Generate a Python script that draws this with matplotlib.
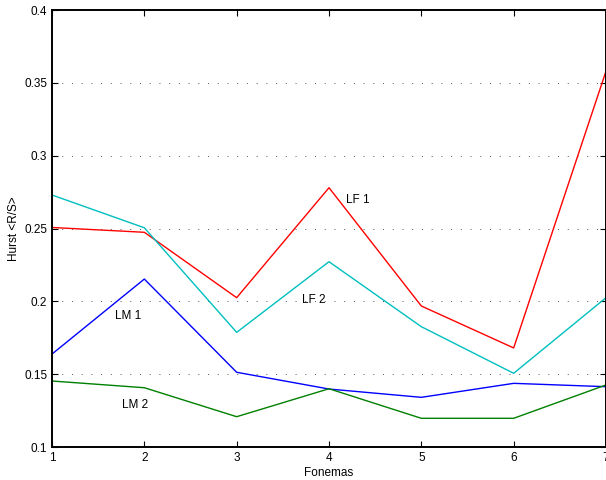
import matplotlib
matplotlib.use("Agg")
import matplotlib.pyplot as plt

plt.rcParams['font.family'] = ['Liberation Sans', 'DejaVu Sans']

fonemas = [1, 2, 3, 4, 5, 6, 7]
lf1 = [0.2507, 0.2474, 0.2025, 0.2780, 0.1968, 0.1680, 0.3580]
lf2 = [0.2730, 0.2505, 0.1787, 0.2272, 0.1826, 0.1506, 0.2025]
lm1 = [0.1638, 0.2153, 0.1513, 0.1398, 0.1341, 0.1437, 0.1414]
lm2 = [0.1453, 0.1407, 0.1208, 0.1400, 0.1197, 0.1197, 0.1426]

fig = plt.figure(figsize=(6.06, 4.80), dpi=100)
ax = fig.add_axes([0.0858, 0.06875, 0.9142, 0.9104])

ax.plot(fonemas, lf1, color='#ff0000', lw=1.0)
ax.plot(fonemas, lf2, color='#00bfbf', lw=1.0)
ax.plot(fonemas, lm1, color='#0000ff', lw=1.0)
ax.plot(fonemas, lm2, color='#008000', lw=1.0)

fs = 8.5
ax.text(4.185, 0.2696, 'LF 1', fontsize=fs, va='center', ha='left')
ax.text(3.71, 0.2009, 'LF 2', fontsize=fs, va='center', ha='left')
ax.text(1.68, 0.190, 'LM 1', fontsize=fs, va='center', ha='left')
ax.text(1.76, 0.129, 'LM 2', fontsize=fs, va='center', ha='left')

ax.set_xlim(1, 7)
ax.set_ylim(0.1, 0.4)
ax.set_xticks(fonemas)
yt = [0.1, 0.15, 0.2, 0.25, 0.3, 0.35, 0.4]
ax.set_yticks(yt)
ax.set_yticklabels(['0.1', '0.15', '0.2', '0.25', '0.3', '0.35', '0.4'])
ax.tick_params(direction='in', top=True, right=True, labelsize=fs, length=4, width=0.8)
ax.yaxis.grid(True, linestyle=(0, (1, 9)), color='#555555', lw=0.7)
for s in ax.spines.values():
    s.set_linewidth(1.4)

ax.set_xlabel('Fonemas', fontsize=fs, labelpad=2)
ax.set_ylabel('Hurst <R/S>', fontsize=fs, va='center')
ax.yaxis.set_label_coords(-0.069, 0.5)

fig.savefig('out.png', dpi=100)
